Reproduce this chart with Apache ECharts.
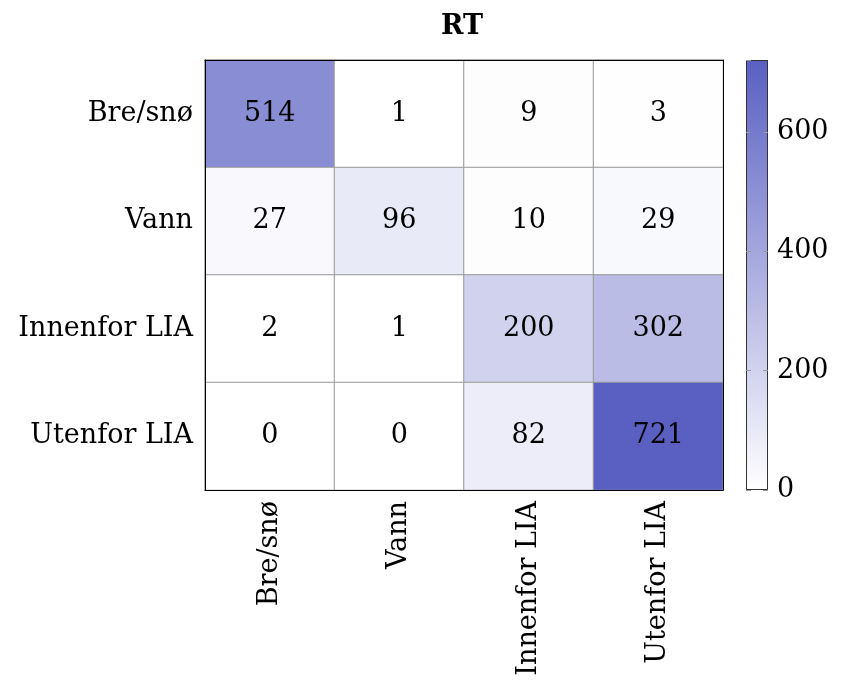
<!DOCTYPE html>
<html>
<head>
<meta charset="utf-8">
<script src="https://cdn.jsdelivr.net/npm/echarts@6/dist/echarts.min.js"></script>
<style>
  html, body { margin: 0; padding: 0; background: #fff; }
  #chart { width: 844px; height: 681px; }
</style>
</head>
<body>
<div id="chart"></div>
<script>
// Confusion matrix for RT: rows = reference class, columns = predicted class
const classes = ['Bre/snø', 'Vann', 'Innenfor LIA', 'Utenfor LIA'];
const rowBreSno = [514, 1, 9, 3];
const rowVann = [27, 96, 10, 29];
const rowInnenfor = [2, 1, 200, 302];
const rowUtenfor = [0, 0, 82, 721];
const matrixRows = [rowBreSno, rowVann, rowInnenfor, rowUtenfor];
const colorbarTicks = [0, 200, 400, 600];

const FONT = 'DejaVu Serif';
const FS = 27;
const maxColor = '#5a5fc2';
const barEdge = '#333';

const cells = [];
matrixRows.forEach((row, r) => row.forEach((v, c) => cells.push([c, r, v])));
const maxVal = Math.max(...cells.map(d => d[2]));

const chart = echarts.init(document.getElementById('chart'), null, { renderer: 'canvas' });

const edgeAxis = (extra) => Object.assign({
  z: 10,
  axisLine: { show: true, lineStyle: { color: '#000', width: 1 } },
  axisTick: { show: false },
  axisLabel: { show: false },
  splitLine: { show: false }
}, extra);

const option = {
  animation: false,
  backgroundColor: '#fff',
  title: {
    text: 'RT',
    left: 457,
    textAlign: 'center',
    top: 8,
    textStyle: { fontFamily: FONT, fontSize: FS, fontWeight: 'bold', color: '#000' }
  },
  grid: [
    { left: 205, right: 121, top: 60, bottom: 191 },
    { left: 746, width: 22, top: 60, bottom: 191 }
  ],
  xAxis: [
    edgeAxis({
      type: 'category', gridIndex: 0, data: classes, position: 'bottom',
      axisLabel: { show: true, rotate: 90, margin: 11, color: '#000', fontFamily: FONT, fontSize: FS }
    }),
    edgeAxis({ type: 'category', gridIndex: 0, data: classes, position: 'top' }),
    {
      type: 'category', gridIndex: 1, data: [''], show: false
    }
  ],
  yAxis: [
    edgeAxis({
      type: 'category', gridIndex: 0, data: classes, inverse: true, position: 'left',
      axisLabel: { show: true, margin: 12, color: '#000', fontFamily: FONT, fontSize: FS }
    }),
    edgeAxis({ type: 'category', gridIndex: 0, data: classes, inverse: true, position: 'right' }),
    edgeAxis({
      type: 'value', gridIndex: 1, min: 0, max: maxVal, interval: 200, position: 'right',
      z: 30,
      axisLine: { show: false },
      axisTick: { show: true, inside: true, length: 5, lineStyle: { color: '#999', width: 1 } },
      axisLabel: {
        show: true, showMaxLabel: false, margin: 9, color: '#000', fontFamily: FONT, fontSize: FS,
        formatter: v => (colorbarTicks.includes(v) ? String(v) : '')
      }
    }),
    edgeAxis({
      type: 'value', gridIndex: 1, min: 0, max: maxVal, interval: 200, position: 'left',
      z: 30,
      axisLine: { show: false },
      axisTick: { show: true, inside: true, length: 5, lineStyle: { color: '#999', width: 1 } }
    })
  ],
  visualMap: {
    show: false,
    type: 'continuous',
    seriesIndex: 0,
    min: 0,
    max: maxVal,
    inRange: { color: ['#ffffff', maxColor] }
  },
  series: [
    {
      type: 'heatmap',
      xAxisIndex: 0,
      yAxisIndex: 0,
      data: cells,
      itemStyle: { borderColor: '#999', borderWidth: 1 },
      label: { show: true, color: '#000', fontFamily: FONT, fontSize: FS },
      emphasis: { disabled: true }
    },
    {
      // colour bar: a single full-height bar filled with the colour ramp
      type: 'bar',
      xAxisIndex: 2,
      yAxisIndex: 2,
      data: [maxVal],
      barWidth: '100%',
      z: 2,
      itemStyle: {
        color: new echarts.graphic.LinearGradient(0, 0, 0, 1, [
          { offset: 0, color: maxColor },
          { offset: 1, color: '#ffffff' }
        ])
      },
      emphasis: { disabled: true }
    },
    {
      // outline of the colour bar, drawn over the ramp
      type: 'bar',
      xAxisIndex: 2,
      yAxisIndex: 2,
      data: [maxVal],
      barWidth: '100%',
      barGap: '-100%',
      z: 20,
      itemStyle: { color: 'rgba(0,0,0,0)', borderColor: barEdge, borderWidth: 1 },
      emphasis: { disabled: true }
    }
  ]
};

chart.setOption(option);
</script>
</body>
</html>
